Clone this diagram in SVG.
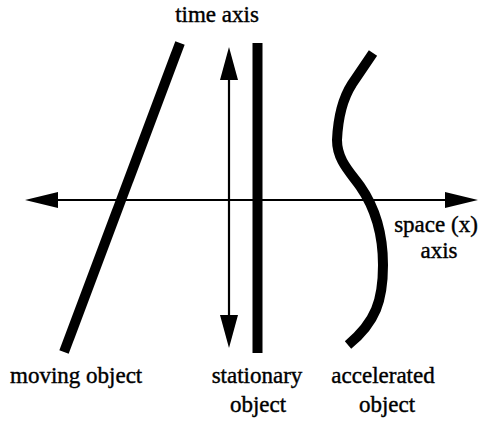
<svg xmlns="http://www.w3.org/2000/svg" width="479" height="421" viewBox="0 0 479 421">
<style>
text{font-family:'Liberation Serif','Times New Roman',serif;font-size:23px;fill:#000;stroke:#000;stroke-width:0.4}
.obj{fill:none;stroke:#000;stroke-width:10}
.ax{stroke:#000;stroke-width:2.2;fill:none}
.head{fill:#000}
</style>
<rect width="479" height="421" fill="#fff"/>
<g id="connectors">
<g id="space-axis">
<line class="ax" x1="50" y1="200" x2="450" y2="200"/>
<polygon class="head" points="25,200 58,192 58,208"/>
<polygon class="head" points="478,200 445,192 445,208"/>
</g>
<g id="time-axis">
<line class="ax" x1="229" y1="75" x2="229" y2="320"/>
<polygon class="head" points="229,47 220,80 238,80"/>
<polygon class="head" points="229,348 220,315 238,315"/>
</g>
</g>
<g id="moving-object">
<line class="obj" x1="180" y1="43" x2="64" y2="352"/>
<text x="10" y="383">moving object</text>
</g>
<g id="stationary-object">
<line class="obj" x1="257.5" y1="43" x2="257.5" y2="353"/>
<text x="257" y="383" text-anchor="middle">stationary</text>
<text x="258" y="412" text-anchor="middle">object</text>
</g>
<g id="accelerated-object">
<path class="obj" d="M373,53 L352,84 C343,98 338,118 337,140 C337,160 350,172 360,186 C374,206 383,232 383,265 C383,300 376,322 348,345"/>
<text x="383" y="383" text-anchor="middle">accelerated</text>
<text x="387" y="412" text-anchor="middle">object</text>
</g>
<g id="labels">
<text x="217" y="22" text-anchor="middle">time axis</text>
<text x="436" y="232" text-anchor="middle">space (x)</text>
<text x="439" y="258" text-anchor="middle">axis</text>
</g>
</svg>
